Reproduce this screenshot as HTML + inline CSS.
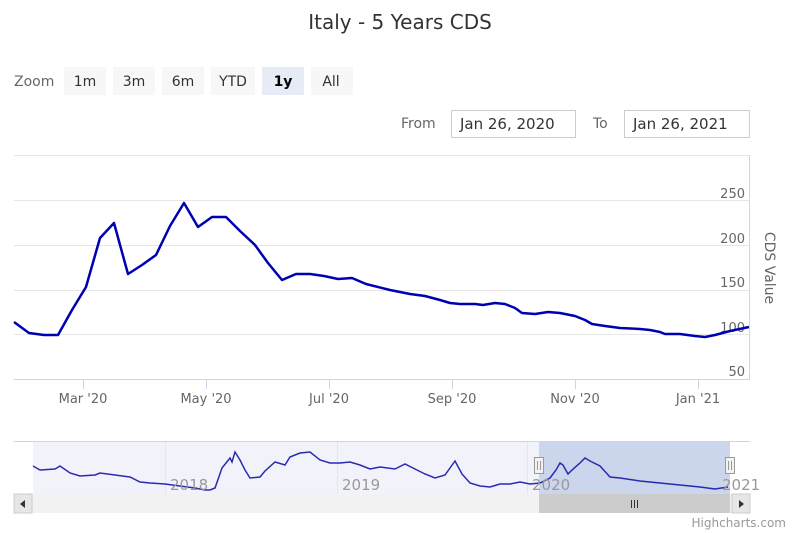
<!DOCTYPE html>
<html><head><style>
body{margin:0;background:#fff;}
svg{display:block;font-family:"DejaVu Sans","Liberation Sans",sans-serif;}
</style></head><body>
<svg width="800" height="533" viewBox="0 0 800 533">
<text x="400" y="29" text-anchor="middle" font-size="20" fill="#333">Italy - 5 Years CDS</text>
<text x="14" y="86" font-size="14" fill="#666">Zoom</text>
<g font-size="14" fill="#333" text-anchor="middle">
<rect x="64" y="67" width="42" height="28" fill="#f7f7f7"/><text x="85" y="86">1m</text>
<rect x="113" y="67" width="42" height="28" fill="#f7f7f7"/><text x="134" y="86">3m</text>
<rect x="162" y="67" width="42" height="28" fill="#f7f7f7"/><text x="183" y="86">6m</text>
<rect x="211" y="67" width="44" height="28" fill="#f7f7f7"/><text x="233" y="86">YTD</text>
<rect x="262" y="67" width="42" height="28" fill="#e6ebf5"/><text x="283" y="86" font-weight="bold" fill="#000">1y</text>
<rect x="311" y="67" width="42" height="28" fill="#f7f7f7"/><text x="331" y="86">All</text>
</g>
<text x="401" y="128" font-size="14" fill="#666">From</text>
<rect x="451.5" y="110.5" width="124" height="27" fill="#fff" stroke="#ccc"/>
<text x="460" y="129" font-size="15" fill="#333">Jan 26, 2020</text>
<text x="593" y="128" font-size="14" fill="#666">To</text>
<rect x="624.5" y="110.5" width="125" height="27" fill="#fff" stroke="#ccc"/>
<text x="633" y="129" font-size="15" fill="#333">Jan 26, 2021</text>
<g stroke="#e6e6e6" stroke-width="1">
<line x1="14" y1="155.5" x2="749" y2="155.5"/>
<line x1="14" y1="200.5" x2="749" y2="200.5"/>
<line x1="14" y1="245.5" x2="749" y2="245.5"/>
<line x1="14" y1="290.5" x2="749" y2="290.5"/>
<line x1="14" y1="334.5" x2="749" y2="334.5"/>
</g>
<line x1="14" y1="379.5" x2="749" y2="379.5" stroke="#ccd6eb"/>
<line x1="749.5" y1="155" x2="749.5" y2="380" stroke="#ccd6eb"/>
<g stroke="#ccd6eb"><line x1="83.5" y1="380" x2="83.5" y2="389"/><line x1="206.5" y1="380" x2="206.5" y2="389"/><line x1="329.5" y1="380" x2="329.5" y2="389"/><line x1="452.5" y1="380" x2="452.5" y2="389"/><line x1="575.5" y1="380" x2="575.5" y2="389"/><line x1="698.5" y1="380" x2="698.5" y2="389"/></g>
<g font-size="13" fill="#666" text-anchor="middle">
<text x="83" y="403">Mar '20</text><text x="206" y="403">May '20</text><text x="329" y="403">Jul '20</text><text x="452" y="403">Sep '20</text><text x="575" y="403">Nov '20</text><text x="698" y="403">Jan '21</text>
</g>
<g font-size="13" fill="#666" text-anchor="end">
<text x="745" y="198">250</text><text x="745" y="243">200</text><text x="745" y="287">150</text><text x="745" y="332">100</text><text x="745" y="376">50</text>
</g>
<text transform="translate(765,268) rotate(90)" text-anchor="middle" font-size="14" fill="#666">CDS Value</text>
<polyline fill="none" stroke="#0000b3" stroke-width="2.5" stroke-linejoin="round" points="14,322 29,333 44,335 58,335 72,310 86,287 100,238 114,223 128,274 142,265 156,255 170,226 184,203 198,227 212,217 226,217 240,231 255,245 268,263 282,280 296,274 310,274 324,276 338,279 352,278 366,284 390,290 410,294 425,296 440,300 450,303 460,304 475,304 483,305 495,303 505,304 515,308 522,313 535,314 548,312 560,313 575,316 585,320 592,324 605,326 620,328 640,329 650,330 660,332 665,334 680,334 695,336 705,337 715,335 730,331 749,327"/>
<line x1="14" y1="441.5" x2="750" y2="441.5" stroke="#ccd6eb"/>
<rect x="33" y="442" width="697" height="52" fill="#f2f2fb"/>
<g stroke="#e6e6e6"><line x1="165.5" y1="442" x2="165.5" y2="494"/><line x1="337.5" y1="442" x2="337.5" y2="494"/><line x1="527.5" y1="442" x2="527.5" y2="494"/></g>
<rect x="539" y="442" width="191" height="52" fill="#c7d1ea" fill-opacity="0.9"/>
<polyline fill="none" stroke="#2a2ab0" stroke-width="1.5" points="33,466 40,470 55,469 60,466 70,473 80,476 95,475 100,473 115,475 130,477 140,482 150,483 165,484 180,486 195,488 205,490 210,490 215,488 222,468 226,463 230,458 232,462 235,452 240,460 245,470 250,478 260,477 265,471 275,462 285,465 290,457 300,453 310,452 320,460 330,463 340,463 350,462 360,465 370,469 380,467 395,469 405,464 415,469 425,474 435,478 445,475 455,461 462,474 470,483 480,486 490,487 500,484 510,484 520,482 530,484 540,483 550,478 556,470 560,463 563,465 568,474 572,470 580,463 585,458 590,461 600,466 610,477 620,478 640,481 660,483 680,485 700,487 715,489 728,487"/>
<g font-size="15" fill="#999"><text x="170" y="490">2018</text><text x="342" y="490">2019</text><text x="532" y="490">2020</text><text x="722" y="490">2021</text></g>
<rect x="534.5" y="457.5" width="9" height="16" fill="#f2f2f2" stroke="#999"/><line x1="537.5" y1="461" x2="537.5" y2="470" stroke="#999"/><line x1="540.5" y1="461" x2="540.5" y2="470" stroke="#999"/>
<rect x="725.5" y="457.5" width="9" height="16" fill="#f2f2f2" stroke="#999"/><line x1="728.5" y1="461" x2="728.5" y2="470" stroke="#999"/><line x1="731.5" y1="461" x2="731.5" y2="470" stroke="#999"/>
<rect x="14" y="494" width="736" height="19" fill="#f2f2f2"/>
<rect x="539" y="494" width="191" height="19" fill="#cccccc"/>
<rect x="14" y="494" width="18" height="19" fill="#e6e6e6" stroke="#ccc"/><path d="M25,500 L20,504 L25,508Z" fill="#333"/>
<rect x="732" y="494" width="18" height="19" fill="#e6e6e6" stroke="#ccc"/><path d="M739,500 L744,504 L739,508Z" fill="#333"/>
<g stroke="#333"><line x1="631.5" y1="500" x2="631.5" y2="508"/><line x1="634.5" y1="500" x2="634.5" y2="508"/><line x1="637.5" y1="500" x2="637.5" y2="508"/></g>
<text x="786" y="527" text-anchor="end" font-size="12" fill="#999">Highcharts.com</text>
</svg>
</body></html>
